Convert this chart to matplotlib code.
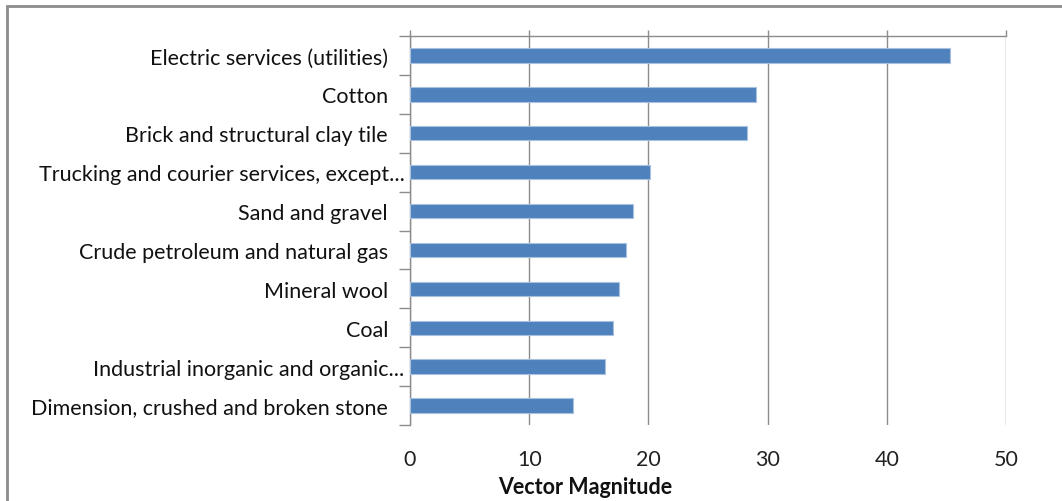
import matplotlib.pyplot as plt
from matplotlib.patches import Rectangle

categorias = ['Electric services (utilities)', 'Cotton', 'Brick and structural clay tile',
              'Trucking and courier services, except...', 'Sand and gravel',
              'Crude petroleum and natural gas', 'Mineral wool', 'Coal',
              'Industrial inorganic and organic...', 'Dimension, crushed and broken stone']
valores = [45.3, 29.0, 28.3, 20.1, 18.7, 18.1, 17.5, 17.0, 16.4, 13.7]
xticks = [0, 10, 20, 30, 40, 50]

plt.rcParams['font.family'] = ['Lato', 'DejaVu Sans']

W, H = 1062, 502
fig = plt.figure(figsize=(W / 100, H / 100), dpi=100)
ax = fig.add_axes([410 / W, 1 - 426 / H, (1006 - 410) / W, (426 - 37) / H])

# marco gris del grafico (se corta a la derecha y abajo)
fig.patches.append(Rectangle((7 / W, -0.1), 1.2, 1 - 7 / H + 0.1, transform=fig.transFigure,
                             fill=False, edgecolor='#8c8c8c', linewidth=2))

pos = list(range(len(categorias)))
ax.barh(pos, valores, height=0.37, color='#4f81bd', edgecolor='#a9c1e0', linewidth=0.8, zorder=3)

# las etiquetas completas llevan un hueco al final, como en Excel; las cortadas no
etiquetas = [c if c.endswith('...') else c + '   ' for c in categorias]

ax.set_xlim(0, 50)
ax.set_ylim(len(categorias) - 0.5, -0.5)
ax.set_xticks(xticks)
ax.set_xticklabels([str(t) for t in xticks], fontsize=15.5, color='#222222')
ax.set_yticks(pos)
ax.set_yticklabels(etiquetas, fontsize=15.5, color='#111111')
ax.set_yticks([p + 0.5 for p in range(-1, len(categorias))], minor=True)

ax.tick_params(axis='y', which='major', length=0, pad=4)
ax.tick_params(axis='y', which='minor', length=8, color='#8c8c8c', width=1)
ax.tick_params(axis='x', bottom=False, top=True, labelbottom=True, labeltop=False,
               direction='out', length=4, color='#8c8c8c', width=1, pad=13)

ax.grid(axis='x', color='#8c8c8c', linewidth=1, zorder=0)
for lado in ['right', 'bottom']:
    ax.spines[lado].set_visible(False)
for lado in ['left', 'top']:
    ax.spines[lado].set_color('#8c8c8c')
    ax.spines[lado].set_linewidth(1)

fig.text(585 / W, 1 - 488 / H, 'Vector Magnitude', ha='center', va='center',
         fontsize=15.5, fontweight='bold', color='#111111')

fig.savefig('out.png', dpi=100)
